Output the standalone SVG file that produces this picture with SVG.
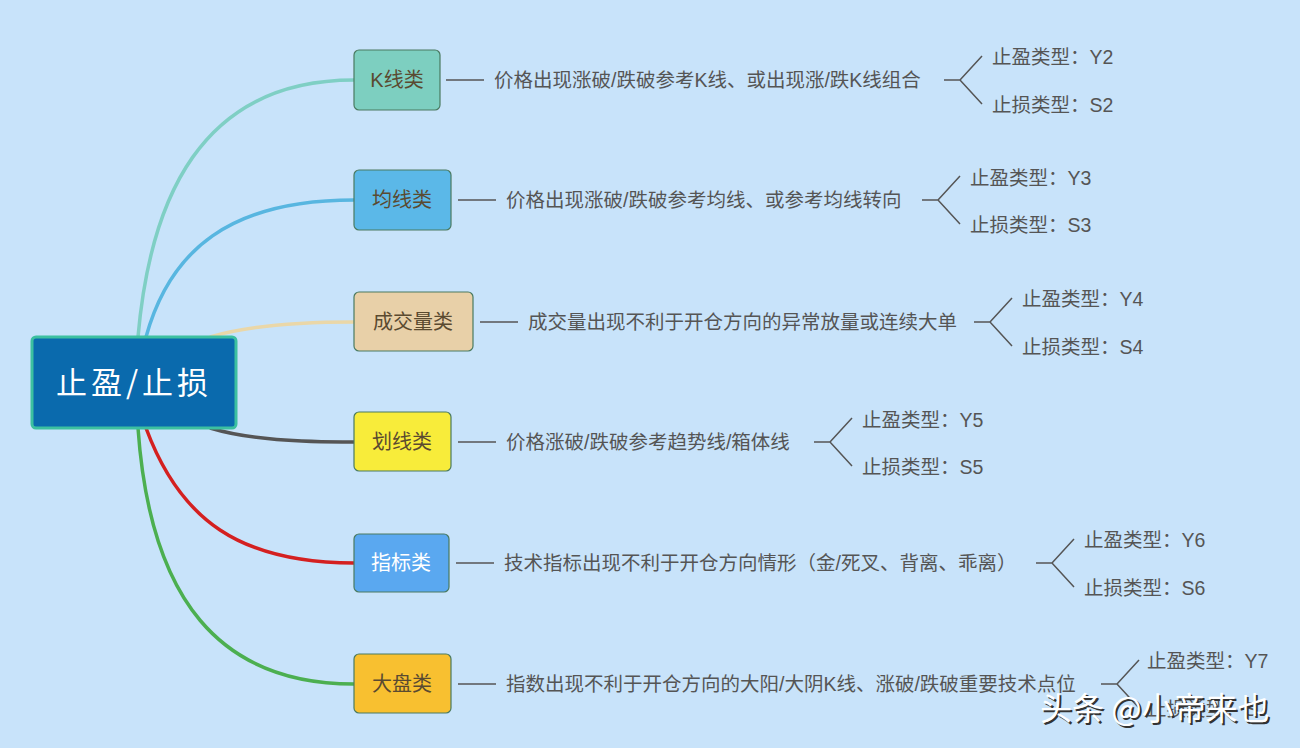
<svg xmlns="http://www.w3.org/2000/svg" width="1300" height="748" viewBox="0 0 1300 748">
<style>
.t{font-family:"Liberation Sans","Noto Sans CJK SC",sans-serif;font-size:19.5px;fill:#555}
.n{font-family:"Liberation Sans","Noto Sans CJK SC",sans-serif;font-size:20px;fill:#5a4a30;text-anchor:middle}
.l{fill:none;stroke-width:3.5}
.g{fill:none;stroke:#555;stroke-width:1.5}
.b{stroke:#4a7a60;stroke-width:1.2}
</style>
<rect width="1300" height="748" fill="#c8e3fa"/>
<g id="connectors">
<path class="l" stroke="#7fcfc4" d="M138,337 C150,200 200,80 354,80"/>
<path class="l" stroke="#58b6e0" d="M146,337 C170,250 230,200 354,200"/>
<path class="l" stroke="#ead7a8" d="M210,337 C250,325 300,322 354,322"/>
<path class="l" stroke="#555" d="M210,428 C250,440 300,442 354,442"/>
<path class="l" stroke="#d42020" d="M146,428 C180,520 240,563 354,563"/>
<path class="l" stroke="#4caf50" d="M138,428 C150,600 220,684 354,684"/>
<path class="g" d="M446,80h38 M960,80h-16 M960,80l22,-24 M960,80l22,24"/>
<path class="g" d="M458,200h38 M938,200h-16 M938,200l22,-24 M938,200l22,24"/>
<path class="g" d="M480,322h38 M990,322h-16 M990,322l22,-24 M990,322l22,24"/>
<path class="g" d="M458,442h38 M830,442h-16 M830,442l22,-24 M830,442l22,24"/>
<path class="g" d="M456,563h38 M1052,563h-16 M1052,563l22,-24 M1052,563l22,24"/>
<path class="g" d="M458,684h38 M1117,684h-16 M1117,684l22,-24 M1117,684l22,24"/>
</g>
<g id="root"><rect x="32" y="337" width="204" height="91" rx="4" fill="#0a6aad" stroke="#3cc0a0" stroke-width="3"/>
<text x="134" y="394" text-anchor="middle" font-family="'Noto Sans CJK SC',sans-serif" font-size="31" fill="#fff" letter-spacing="4">止盈/止损</text></g>
<g id="k"><rect class="b" x="354" y="50" width="86" height="60" rx="5" fill="#7dcfc0"/><text class="n" x="397" y="87">K线类</text>
<text class="t" x="494" y="87">价格出现涨破/跌破参考K线、或出现涨/跌K线组合</text>
<text class="t" x="992" y="64">止盈类型：Y2</text><text class="t" x="992" y="112">止损类型：S2</text></g>
<g id="ma"><rect class="b" x="354" y="170" width="97" height="60" rx="5" fill="#5bb8e8"/><text class="n" x="402" y="207">均线类</text>
<text class="t" x="506" y="207">价格出现涨破/跌破参考均线、或参考均线转向</text>
<text class="t" x="970" y="185">止盈类型：Y3</text><text class="t" x="970" y="232">止损类型：S3</text></g>
<g id="vol"><rect class="b" x="354" y="292" width="119" height="59" rx="5" fill="#e8d0a8"/><text class="n" x="413" y="329">成交量类</text>
<text class="t" x="528" y="329">成交量出现不利于开仓方向的异常放量或连续大单</text>
<text class="t" x="1022" y="306">止盈类型：Y4</text><text class="t" x="1022" y="354">止损类型：S4</text></g>
<g id="draw"><rect class="b" x="354" y="412" width="97" height="59" rx="5" fill="#f8ec3a"/><text class="n" x="402" y="449">划线类</text>
<text class="t" x="506" y="449">价格涨破/跌破参考趋势线/箱体线</text>
<text class="t" x="862" y="427">止盈类型：Y5</text><text class="t" x="862" y="474">止损类型：S5</text></g>
<g id="ind"><rect class="b" x="354" y="534" width="95" height="58" rx="5" fill="#5aa8f0"/><text class="n" x="401" y="570" style="fill:#fff">指标类</text>
<text class="t" x="504" y="570">技术指标出现不利于开仓方向情形（金/死叉、背离、乖离）</text>
<text class="t" x="1084" y="547">止盈类型：Y6</text><text class="t" x="1084" y="595">止损类型：S6</text></g>
<g id="mkt"><rect class="b" x="354" y="654" width="97" height="59" rx="5" fill="#f8c030"/><text class="n" x="402" y="691">大盘类</text>
<text class="t" x="506" y="691">指数出现不利于开仓方向的大阳/大阴K线、涨破/跌破重要技术点位</text>
<text class="t" x="1147" y="668">止盈类型：Y7</text><text class="t" x="1147" y="716">止损类型：S7</text></g>
<g id="watermark"><text x="1042" y="722" font-family="'Noto Sans CJK SC',sans-serif" font-size="32" fill="#333">头条 @小帝来也</text>
<text x="1040" y="720" font-family="'Noto Sans CJK SC',sans-serif" font-size="32" fill="#fff">头条 @小帝来也</text></g>
</svg>
